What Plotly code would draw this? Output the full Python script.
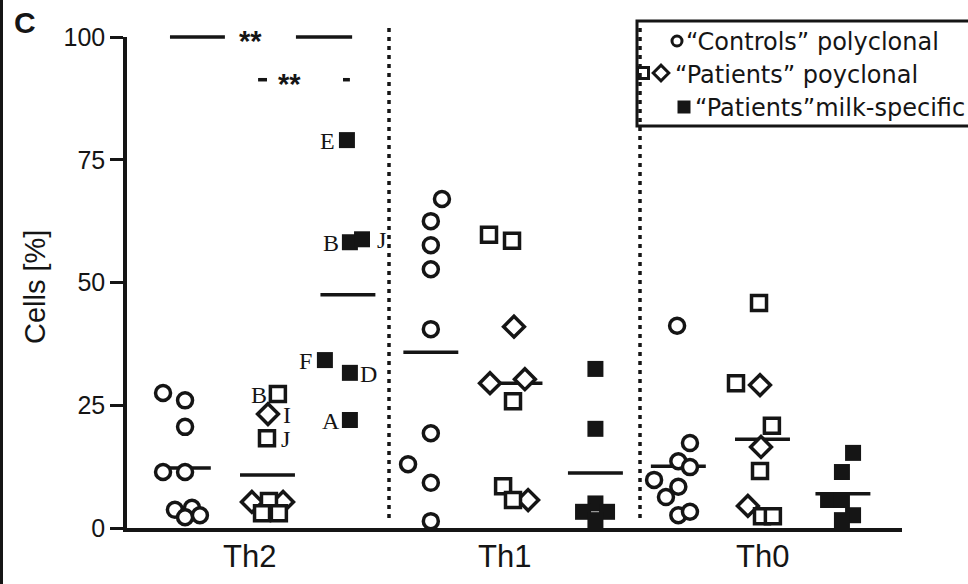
import plotly.graph_objects as go

W, H = 968, 584
# pixel edges of the plotting area
PLOT_L, PLOT_R, PLOT_T, PLOT_B = 127, 902, 37, 528

CATEGORIES = ["Th2", "Th1", "Th0"]
Y_TICKS = [0, 25, 50, 75, 100]

# "Controls" polyclonal, cells [%]
CTRL_TH2 = [27.5, 26.0, 20.6, 11.4, 11.4, 3.7, 4.1, 2.2, 2.6]
CTRL_TH1 = [67.0, 62.5, 57.6, 52.7, 40.5, 19.3, 13.0, 9.2, 1.4]
CTRL_TH0 = [41.2, 17.3, 13.6, 12.4, 9.8, 8.4, 6.3, 2.6, 3.3]
CTRL_TH2_JIT = [-0.082, 0.007, 0.007, -0.082, 0.007, -0.034, 0.035, 0.007, 0.067]
CTRL_TH1_JIT = [0.045, 0.0, 0.0, 0.0, 0.0, 0.0, -0.092, 0.0, 0.0]
CTRL_TH0_JIT = [-0.005, 0.047, 0.0, 0.047, -0.098, 0.0, -0.05, 0.0, 0.047]

# "Patients" polyclonal, clones shown as squares and diamonds
PAT_SQ_TH2 = [27.3, 18.3, 5.5, 3.0, 3.0]
PAT_SQ_TH1 = [59.7, 58.5, 25.8, 8.5, 5.7]
PAT_SQ_TH0 = [45.8, 29.5, 20.8, 11.6, 2.4, 2.4]
PAT_SQ_TH2_JIT = [0.042, -0.002, 0.006, -0.022, 0.046]
PAT_SQ_TH1_JIT = [-0.105, -0.012, -0.008, -0.048, -0.008]
PAT_SQ_TH0_JIT = [-0.014, -0.107, 0.038, -0.01, -0.002, 0.042]
PAT_SQ_TH2_IDS = ["B", "J", "", "", ""]

PAT_DI_TH2 = [23.2, 5.3, 5.3]
PAT_DI_TH1 = [41.0, 29.5, 30.3, 5.7]
PAT_DI_TH0 = [29.1, 16.5, 4.5]
PAT_DI_TH2_JIT = [0.002, -0.063, 0.063]
PAT_DI_TH1_JIT = [-0.004, -0.101, 0.04, 0.053]
PAT_DI_TH0_JIT = [-0.01, -0.006, -0.059]
PAT_DI_TH2_IDS = ["I", "", ""]

# "Patients" milk-specific
MILK_TH2 = [79.0, 58.2, 58.8, 34.2, 31.6, 22.0]
MILK_TH1 = [32.4, 20.2, 5.0, 3.3, 3.3, 1.6]
MILK_TH0 = [15.3, 11.4, 5.7, 5.7, 2.6, 1.6]
MILK_TH2_JIT = [-0.004, 0.008, 0.057, -0.093, 0.008, 0.008]
MILK_TH1_JIT = [0.0, 0.0, 0.0, -0.05, 0.047, 0.0]
MILK_TH0_JIT = [0.041, -0.004, -0.06, -0.004, 0.041, -0.004]
MILK_TH2_IDS = ["E", "B", "J", "F", "D", "A"]

# group medians (Th2, Th1, Th0)
CTRL_MED = [12.2, 35.8, 12.6]
PAT_MED = [10.8, 29.5, 18.1]
MILK_MED = [47.5, 11.2, 7.0]

# significance brackets in the Th2 group
SIG_LEVELS = [100, 91.3]
SIG_TEXT = ["**", "**"]

LEGEND_TEXT = ["\u201cControls\u201d polyclonal",
               "\u201cPatients\u201d poyclonal",
               "\u201cPatients\u201dmilk-specific"]

SUB_OFFSET = {"ctrl": -0.33, "pat": 0.01, "milk": 0.335}
HALF_W = 0.111
X_RANGE = [-0.5576, 2.5737]
INK = "#151515"
SANS = "Liberation Sans, Arial, sans-serif"
SERIF = "Liberation Serif, Times New Roman, serif"

Y_DOM = [1 - PLOT_B / H, 1 - PLOT_T / H]


def ypaper(v):
    return Y_DOM[0] + v / 100 * (Y_DOM[1] - Y_DOM[0])


def xpos(gi, sub, jit):
    return [gi + SUB_OFFSET[sub] + j for j in jit]


fig = go.Figure()

# median bars
for gi in range(3):
    for sub, med in (("ctrl", CTRL_MED[gi]), ("pat", PAT_MED[gi]), ("milk", MILK_MED[gi])):
        c = gi + SUB_OFFSET[sub]
        fig.add_trace(go.Scatter(x=[c - HALF_W, c + HALF_W], y=[med, med], mode="lines",
                                 line=dict(color=INK, width=3.5), hoverinfo="skip"))

ctrl_sets = [(CTRL_TH2, CTRL_TH2_JIT), (CTRL_TH1, CTRL_TH1_JIT), (CTRL_TH0, CTRL_TH0_JIT)]
di_sets = [(PAT_DI_TH2, PAT_DI_TH2_JIT), (PAT_DI_TH1, PAT_DI_TH1_JIT), (PAT_DI_TH0, PAT_DI_TH0_JIT)]
sq_sets = [(PAT_SQ_TH2, PAT_SQ_TH2_JIT), (PAT_SQ_TH1, PAT_SQ_TH1_JIT), (PAT_SQ_TH0, PAT_SQ_TH0_JIT)]
milk_sets = [(MILK_TH2, MILK_TH2_JIT), (MILK_TH1, MILK_TH1_JIT), (MILK_TH0, MILK_TH0_JIT)]

for gi, (vals, jit) in enumerate(ctrl_sets):
    fig.add_trace(go.Scatter(x=xpos(gi, "ctrl", jit), y=vals, mode="markers", cliponaxis=False,
                             marker=dict(symbol="circle", size=15, color="white",
                                         line=dict(color=INK, width=3.5))))
for gi, (vals, jit) in enumerate(di_sets):
    fig.add_trace(go.Scatter(x=xpos(gi, "pat", jit), y=vals, mode="markers", cliponaxis=False,
                             marker=dict(symbol="diamond", size=16, color="white",
                                         line=dict(color=INK, width=3.5))))
for gi, (vals, jit) in enumerate(sq_sets):
    fig.add_trace(go.Scatter(x=xpos(gi, "pat", jit), y=vals, mode="markers", cliponaxis=False,
                             marker=dict(symbol="square", size=15, color="white",
                                         line=dict(color=INK, width=3.5))))
for gi, (vals, jit) in enumerate(milk_sets):
    fig.add_trace(go.Scatter(x=xpos(gi, "milk", jit), y=vals, mode="markers", cliponaxis=False,
                             marker=dict(symbol="square", size=16, color=INK,
                                         line=dict(color=INK, width=0))))

annotations = []

# patient letters next to the Th2 points
LEFT_IDS = {("milk", "E"), ("milk", "B"), ("milk", "F"), ("milk", "A"), ("sq", "B")}
for kind, sub, vals, jit, ids in (("milk", "milk", MILK_TH2, MILK_TH2_JIT, MILK_TH2_IDS),
                                   ("sq", "pat", PAT_SQ_TH2, PAT_SQ_TH2_JIT, PAT_SQ_TH2_IDS),
                                   ("di", "pat", PAT_DI_TH2, PAT_DI_TH2_JIT, PAT_DI_TH2_IDS)):
    for x, v, name in zip(xpos(0, sub, jit), vals, ids):
        if not name:
            continue
        left = (kind, name) in LEFT_IDS
        annotations.append(dict(x=x, y=v, xref="x", yref="y", text=name, showarrow=False,
                                xanchor="center", yanchor="middle",
                                xshift=-19 if left else 19, yshift=-1,
                                font=dict(family=SERIF, size=24, color=INK)))

shapes = []

# significance brackets
sig_spans = [[(-0.384, -0.162), (0.125, 0.352)], [(-0.028, 0.008), (0.315, 0.343)]]
sig_star_x = [-0.06, 0.10]
for lvl, txt, spans, sx in zip(SIG_LEVELS, SIG_TEXT, sig_spans, sig_star_x):
    for x0, x1 in spans:
        shapes.append(dict(type="line", xref="x", yref="paper", x0=x0, x1=x1,
                           y0=ypaper(lvl), y1=ypaper(lvl), line=dict(color=INK, width=3.5)))
    annotations.append(dict(x=sx, y=ypaper(lvl), xref="x", yref="paper", text="<b>" + txt + "</b>",
                            showarrow=False, xanchor="center", yanchor="middle", yshift=-4,
                            font=dict(family=SANS, size=29, color=INK)))

# dotted separators between the Th groups (pixel overlay)
for sx in (389, 640):
    shapes.append(dict(type="line", xref="x2", yref="y2", x0=sx, x1=sx, y0=28, y1=522,
                       line=dict(color=INK, width=3.5, dash="4px,5px")))

# left frame edge
shapes.append(dict(type="line", xref="x2", yref="y2", x0=1.5, x1=1.5, y0=0, y1=H,
                   line=dict(color=INK, width=3)))

# legend frame
shapes.append(dict(type="rect", xref="x2", yref="y2", x0=637, x1=990, y0=21, y1=126,
                   line=dict(color=INK, width=3), fillcolor="rgba(0,0,0,0)"))

# legend symbols
fig.add_trace(go.Scatter(x=[677], y=[41], xaxis="x2", yaxis="y2", mode="markers",
                         marker=dict(symbol="circle", size=10, color="white",
                                     line=dict(color=INK, width=3))))
fig.add_trace(go.Scatter(x=[643], y=[73], xaxis="x2", yaxis="y2", mode="markers",
                         marker=dict(symbol="square", size=11, color="white",
                                     line=dict(color=INK, width=3))))
fig.add_trace(go.Scatter(x=[661], y=[73], xaxis="x2", yaxis="y2", mode="markers",
                         marker=dict(symbol="diamond", size=12, color="white",
                                     line=dict(color=INK, width=3))))
fig.add_trace(go.Scatter(x=[684], y=[107], xaxis="x2", yaxis="y2", mode="markers",
                         marker=dict(symbol="square", size=13, color=INK,
                                     line=dict(color=INK, width=0))))

for txt, lx, ly in zip(LEGEND_TEXT, (684, 673, 693), (42, 75, 108)):
    annotations.append(dict(x=lx, y=ly, xref="x2", yref="y2", text=txt, showarrow=False,
                            xanchor="left", yanchor="middle",
                            font=dict(family="DejaVu Sans, sans-serif", size=24, color=INK)))

# category labels
for name, cx in zip(CATEGORIES, (249, 504, 762)):
    annotations.append(dict(x=cx, y=556, xref="x2", yref="y2", text=name, showarrow=False,
                            xanchor="center", yanchor="middle",
                            font=dict(family=SANS, size=31, color=INK)))

# axis title and panel letter
annotations.append(dict(x=35, y=287, xref="x2", yref="y2", text="Cells [%]", textangle=-90,
                        showarrow=False, xanchor="center", yanchor="middle",
                        font=dict(family=SANS, size=29, color=INK)))
annotations.append(dict(x=25, y=22, xref="x2", yref="y2", text="<b>C</b>", showarrow=False,
                        xanchor="center", yanchor="middle",
                        font=dict(family=SANS, size=30, color=INK)))

fig.update_layout(
    template="none",
    width=W, height=H, autosize=False,
    margin=dict(l=0, r=0, t=0, b=0, pad=0, autoexpand=False),
    paper_bgcolor="white", plot_bgcolor="rgba(0,0,0,0)",
    showlegend=False,
    xaxis=dict(domain=[PLOT_L / W, PLOT_R / W], range=X_RANGE, showgrid=False, zeroline=False,
               showline=True, linecolor=INK, linewidth=3.5, ticks="", showticklabels=False,
               automargin=False, fixedrange=True),
    yaxis=dict(domain=Y_DOM, range=[0, 100], tickvals=Y_TICKS, showgrid=False, zeroline=False,
               showline=True, linecolor=INK, linewidth=3.5, ticks="outside", ticklen=13,
               tickwidth=3, tickcolor=INK, tickfont=dict(family=SANS, size=25, color=INK),
               automargin=False, fixedrange=True),
    xaxis2=dict(domain=[0, 1], range=[0, W], anchor="y2", visible=False, fixedrange=True,
                automargin=False),
    yaxis2=dict(domain=[0, 1], range=[H, 0], anchor="x2", visible=False, fixedrange=True,
                automargin=False),
    shapes=shapes,
    annotations=annotations,
)

fig.write_html("out.html")
